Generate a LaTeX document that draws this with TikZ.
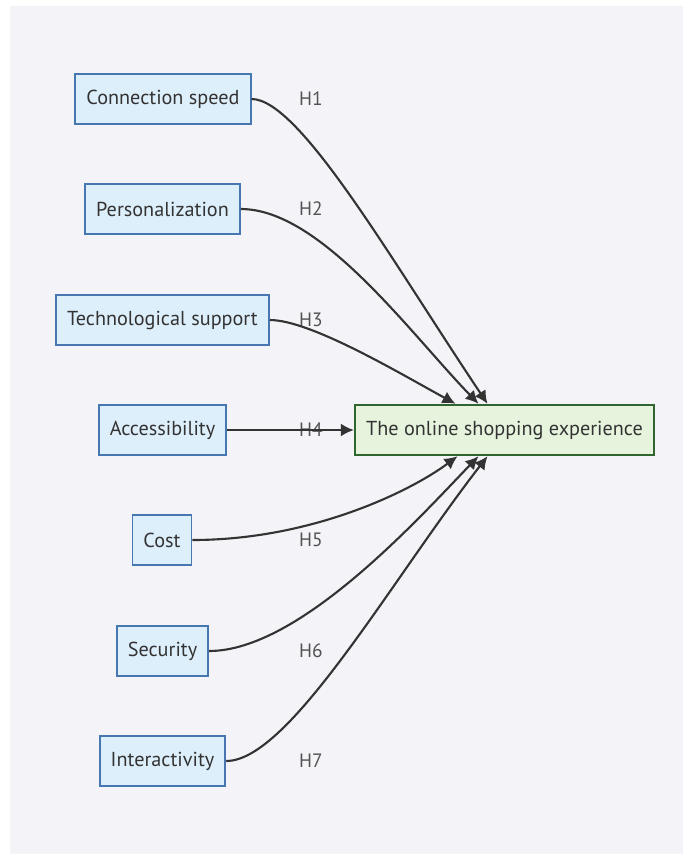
\documentclass[tikz,border=0pt]{standalone}
\usepackage{fontspec}
\setmainfont{PT Sans}
\usetikzlibrary{arrows.meta}

\definecolor{bgpanel}{HTML}{F4F3F8}
\definecolor{factorfill}{HTML}{DDEFFB}
\definecolor{factorline}{HTML}{4677B0}
\definecolor{outfill}{HTML}{E6F4DE}
\definecolor{outline}{HTML}{2F662F}
\definecolor{inkgrey}{HTML}{333333}

\tikzset{
	factor/.style={draw=factorline, fill=factorfill, line width=1.1pt, minimum height=1cm,
		inner xsep=0.22cm, text=inkgrey, font=\fontsize{11.5}{13}\selectfont},
	outcome/.style={draw=outline, fill=outfill, line width=1.4pt, minimum height=1cm,
		inner xsep=0.22cm, text=inkgrey, font=\fontsize{11.5}{13}\selectfont},
	hlabel/.style={text=inkgrey!85, font=\fontsize{11}{13}\selectfont, inner sep=1pt},
	hyp/.style={draw=inkgrey, line width=1.2pt, -{Latex[length=0.26cm, width=0.26cm]}}
}

\begin{document}
\begin{tikzpicture}
	\useasboundingbox (0,0) rectangle (13.66,-17.08);
	\fill[white] (0,0) rectangle (13.66,-17.08);
	\fill[bgpanel] (0.2,-0.12) rectangle (13.66,-17.08);
	% factors on the left
	\node[factor] (connspeed) at (3.26,-1.98) {Connection speed};
	\node[factor] (personal) at (3.25,-4.18) {Personalization};
	\node[factor] (techsupport) at (3.25,-6.40) {Technological support};
	\node[factor] (access) at (3.25,-8.60) {Accessibility};
	\node[factor] (cost) at (3.24,-10.80) {Cost};
	\node[factor] (security) at (3.25,-13.02) {Security};
	\node[factor] (interact) at (3.25,-15.22) {Interactivity};
	% outcome
	\node[outcome] (experience) at (10.09,-8.60) {The online shopping experience};
	% hypothesis labels
	\node[hlabel] (h1) at (6.22,-1.98) {H1};
	\node[hlabel] (h2) at (6.22,-4.18) {H2};
	\node[hlabel] (h3) at (6.22,-6.40) {H3};
	\node[hlabel] (h4) at (6.22,-8.60) {H4};
	\node[hlabel] (h5) at (6.22,-10.80) {H5};
	\node[hlabel] (h6) at (6.22,-13.02) {H6};
	\node[hlabel] (h7) at (6.22,-15.22) {H7};
	% connectors
	\draw[hyp] (connspeed.east) .. controls +(0.96,0) and +(-1.94,2.9) .. ([xshift=-0.34cm]experience.north);
	\draw[hyp] (personal.east) .. controls +(1.6,0) and +(-1.36,1.4) .. ([xshift=-0.52cm]experience.north);
	\draw[hyp] (techsupport.east) .. controls +(0.82,0) and +(-1.1,0.6) .. ([xshift=-0.98cm]experience.north);
	\draw[hyp] (access.east) -- (experience.west);
	\draw[hyp] (cost.east) .. controls +(2.38,0) and +(-0.94,-0.7) .. ([xshift=-0.94cm]experience.south);
	\draw[hyp] (security.east) .. controls +(1.82,0) and +(-1.16,-1.2) .. ([xshift=-0.52cm]experience.south);
	\draw[hyp] (interact.east) .. controls +(1.26,0) and +(-1.94,-2.5) .. ([xshift=-0.34cm]experience.south);
\end{tikzpicture}
\end{document}
